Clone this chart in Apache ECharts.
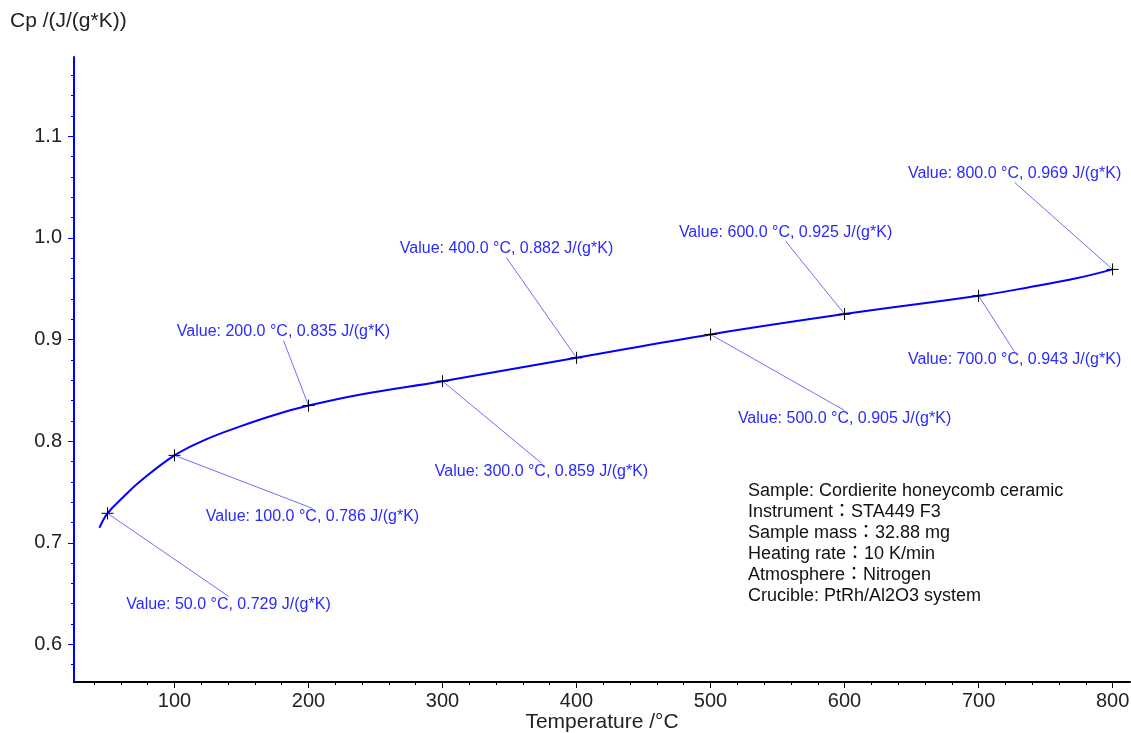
<!DOCTYPE html>
<html>
<head>
<meta charset="utf-8">
<script src="https://cdn.jsdelivr.net/npm/echarts@6/dist/echarts.min.js"></script>
<style>
html,body{margin:0;padding:0;background:#fff;}
#chart{width:1131px;height:733px;}
</style>
</head>
<body>
<div id="chart"></div>
<script>
// ---- data ----
const curveT  = [44, 50, 62, 74, 100, 124, 149, 174, 200, 239, 300, 400, 500, 600, 700, 736, 773, 800];
const curveCp = [0.7148, 0.729, 0.7453, 0.760, 0.786, 0.802, 0.8145, 0.8255, 0.835, 0.846, 0.859, 0.882, 0.905, 0.925, 0.943, 0.951, 0.9602, 0.969];
const markT   = [50, 100, 200, 300, 400, 500, 600, 700, 800];
const markCp  = [0.729, 0.786, 0.835, 0.859, 0.882, 0.905, 0.925, 0.943, 0.969];
const xTickLabels = [100, 200, 300, 400, 500, 600, 700, 800];
const yTickLabels = [0.6, 0.7, 0.8, 0.9, 1.0, 1.1];
const infoLines = [
  'Sample: Cordierite honeycomb ceramic',
  'Instrument：STA449 F3',
  'Sample mass：32.88 mg',
  'Heating rate：10 K/min',
  'Atmosphere：Nitrogen',
  'Crucible: PtRh/Al2O3 system'
];
const xName = 'Temperature /°C';
const yName = 'Cp /(J/(g*K))';

// ---- layout (pixels) ----
const W = 1131, H = 733;
const PLOT = {left: 74, right: 1130, top: 57, bottom: 682};
const X_MIN = 25, X_MAX = 813, Y_MIN = 0.563, Y_MAX = 1.178;
function px(v){ return PLOT.left + (v - X_MIN) / (X_MAX - X_MIN) * (PLOT.right - PLOT.left); }
function py(v){ return PLOT.bottom - (v - Y_MIN) / (Y_MAX - Y_MIN) * (PLOT.bottom - PLOT.top); }
// label centre offsets from the marked point (pixels)
const labelOffsets = [[121, 91], [138, 61], [-25, -74], [99, 90], [-70, -109], [134, 84], [-59, -82], [36, 64], [-98, -96]];

const FONT = '"Liberation Sans", Arial, "Noto Sans CJK JP", sans-serif';
const BLUE = '#0000ff';

const xMinorMin = 40, xMinorMax = 800, xMinorStep = 20;
const yMinorMin = 0.58, yMinorMax = 1.16, yMinorStep = 0.02;
const xMajorStep = 100, yMajorStep = 0.1;

const hiddenAxis = (gi) => ({type: 'value', gridIndex: gi, show: false, min: 0, max: 1, splitLine:{show:false}});

function renderMark(params, api) {
  const t = api.value(0), v = api.value(1);
  const p = api.coord([t, v]);
  const off = labelOffsets[params.dataIndex];
  const lx = p[0] + off[0], ly = p[1] + off[1];
  const ey = ly + (off[1] > 0 ? -8 : 9);
  return {
    type: 'group',
    children: [
      {type: 'line', shape: {x1: p[0], y1: p[1], x2: lx, y2: ey}, style: {stroke: '#6f6fff', lineWidth: 1}},
      {type: 'line', shape: {x1: p[0] - 6, y1: p[1], x2: p[0] + 6, y2: p[1]}, style: {stroke: '#000', lineWidth: 1}},
      {type: 'line', shape: {x1: p[0], y1: p[1] - 6, x2: p[0], y2: p[1] + 6}, style: {stroke: '#000', lineWidth: 1}},
      {type: 'text', x: lx, y: ly, style: {
        text: 'Value: ' + t.toFixed(1) + ' °C, ' + v.toFixed(3) + ' J/(g*K)',
        font: '16px ' + FONT, fill: '#2a2aff', align: 'center', verticalAlign: 'middle'}}
    ]
  };
}

const option = {
  animation: false,
  backgroundColor: '#fff',
  title: {
    text: yName, left: 10, top: 11, padding: 0,
    textStyle: {fontFamily: FONT, fontSize: 21, fontWeight: 'normal', color: '#222'}
  },
  grid: [
    {left: PLOT.left, right: W - PLOT.right, top: PLOT.top, bottom: H - PLOT.bottom, outerBoundsMode: 'none'},
    {left: px(xMinorMin), right: W - px(xMinorMax), top: PLOT.top, bottom: H - PLOT.bottom, outerBoundsMode: 'none'},
    {left: px(xTickLabels[0]), right: W - px(xTickLabels[xTickLabels.length-1]), top: PLOT.top, bottom: H - PLOT.bottom, outerBoundsMode: 'none'},
    {left: PLOT.left, right: W - PLOT.right, top: py(yMinorMax), bottom: H - py(yMinorMin), outerBoundsMode: 'none'},
    {left: PLOT.left, right: W - PLOT.right, top: py(yTickLabels[yTickLabels.length-1]), bottom: H - py(yTickLabels[0]), outerBoundsMode: 'none'}
  ],
  xAxis: [
    {type: 'value', gridIndex: 0, min: X_MIN, max: X_MAX,
     axisLine: {show: true, lineStyle: {color: '#000', width: 2}},
     axisTick: {show: false}, axisLabel: {show: false}, splitLine: {show: false},
     name: xName, nameLocation: 'middle', nameGap: 30,
     nameTextStyle: {fontFamily: FONT, fontSize: 21, color: '#222'}},
    {type: 'value', gridIndex: 1, min: xMinorMin, max: xMinorMax, interval: xMinorStep,
     axisLine: {show: false}, axisTick: {show: true, length: 3, lineStyle: {color: '#000', width: 1}},
     axisLabel: {show: false}, splitLine: {show: false}},
    {type: 'value', gridIndex: 2, min: xTickLabels[0], max: xTickLabels[xTickLabels.length-1], interval: xMajorStep,
     axisLine: {show: false}, axisTick: {show: true, length: 6, lineStyle: {color: '#000', width: 1}},
     axisLabel: {show: true, margin: 9, fontFamily: FONT, fontSize: 20, color: '#222',
                 formatter: v => String(Math.round(v))},
     splitLine: {show: false}},
    hiddenAxis(3), hiddenAxis(4)
  ],
  yAxis: [
    {type: 'value', gridIndex: 0, min: Y_MIN, max: Y_MAX,
     axisLine: {show: true, lineStyle: {color: BLUE, width: 2}},
     axisTick: {show: false}, axisLabel: {show: false}, splitLine: {show: false}},
    hiddenAxis(1), hiddenAxis(2),
    {type: 'value', gridIndex: 3, min: yMinorMin, max: yMinorMax, interval: yMinorStep,
     axisLine: {show: false}, axisTick: {show: true, length: 3, lineStyle: {color: BLUE, width: 1}},
     axisLabel: {show: false}, splitLine: {show: false}},
    {type: 'value', gridIndex: 4, min: yTickLabels[0], max: yTickLabels[yTickLabels.length-1], interval: yMajorStep,
     axisLine: {show: false}, axisTick: {show: true, length: 6, lineStyle: {color: BLUE, width: 1}},
     axisLabel: {show: true, margin: 12, fontFamily: FONT, fontSize: 20, color: '#222',
                 formatter: v => v.toFixed(1)},
     splitLine: {show: false}}
  ],
  series: [
    {
      type: 'line', xAxisIndex: 0, yAxisIndex: 0,
      data: curveT.map((t, i) => [t, curveCp[i]]),
      smooth: 0.4, symbol: 'none',
      lineStyle: {color: BLUE, width: 2},
      emphasis: {disabled: true}, silent: true
    },
    {
      type: 'custom', xAxisIndex: 0, yAxisIndex: 0,
      data: markT.map((t, i) => [t, markCp[i]]),
      renderItem: renderMark, clip: false, silent: true, z: 5
    }
  ],
  graphic: [
    {
      type: 'text', left: 748, top: 481, silent: true,
      style: {text: infoLines.join('\n'), font: '18px ' + FONT, lineHeight: 21, fill: '#111'}
    }
  ]
};

const chart = echarts.init(document.getElementById('chart'), null, {renderer: 'canvas'});
chart.setOption(option);
</script>
</body>
</html>
